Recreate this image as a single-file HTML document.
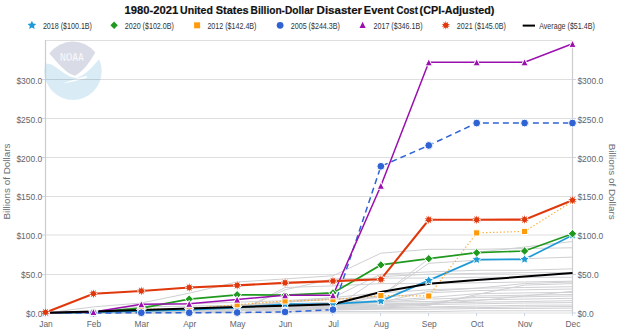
<!DOCTYPE html>
<html><head><meta charset="utf-8"><style>
html,body{margin:0;padding:0;background:#fff;width:620px;height:330px;overflow:hidden;}
svg{display:block;font-family:"Liberation Sans",sans-serif;}
</style></head><body>
<svg width="620" height="330" viewBox="0 0 620 330">
<g>
<circle cx="73" cy="71.3" r="28.7" fill="#d9ecf6"/>
<path d="M43,63.5 L46,48 L99,48 L100.5,57.5 C94,65 86,75 77,78 C68,78 58,68 51.5,64.5 C49,63.8 46,63.5 43,63.5 Z" fill="#ffffff"/>
<path d="M49.3,53.6 A28.7,28.7 0 0 1 95.3,52.6 C90.5,61 84,71 75,75.8 C66,74 57,62 49.3,53.6 Z" fill="#d9dbe7"/>
<path d="M62.5,83.5 C70,81 78,78.3 87,75.8 L86.5,78 C78,80 70,82.5 62.5,83.5 Z" fill="#ffffff"/>
<text x="72" y="60.9" text-anchor="middle" font-family="Liberation Sans" font-weight="bold" font-size="11" fill="#ffffff" stroke="#d9dbe7" stroke-width="0.35" textLength="24" lengthAdjust="spacingAndGlyphs">NOAA</text>
</g>
<line x1="45" y1="313.0" x2="573" y2="313.0" stroke="#000" stroke-opacity="0.13" stroke-width="1"/>
<line x1="42" y1="313.0" x2="45" y2="313.0" stroke="#ccd6eb" stroke-width="1"/>
<line x1="573" y1="313.0" x2="576" y2="313.0" stroke="#ccd6eb" stroke-width="1"/>
<line x1="45" y1="274.5" x2="573" y2="274.5" stroke="#000" stroke-opacity="0.13" stroke-width="1"/>
<line x1="42" y1="274.5" x2="45" y2="274.5" stroke="#ccd6eb" stroke-width="1"/>
<line x1="573" y1="274.5" x2="576" y2="274.5" stroke="#ccd6eb" stroke-width="1"/>
<line x1="45" y1="235.0" x2="573" y2="235.0" stroke="#000" stroke-opacity="0.13" stroke-width="1"/>
<line x1="42" y1="235.0" x2="45" y2="235.0" stroke="#ccd6eb" stroke-width="1"/>
<line x1="573" y1="235.0" x2="576" y2="235.0" stroke="#ccd6eb" stroke-width="1"/>
<line x1="45" y1="196.5" x2="573" y2="196.5" stroke="#000" stroke-opacity="0.13" stroke-width="1"/>
<line x1="42" y1="196.5" x2="45" y2="196.5" stroke="#ccd6eb" stroke-width="1"/>
<line x1="573" y1="196.5" x2="576" y2="196.5" stroke="#ccd6eb" stroke-width="1"/>
<line x1="45" y1="157.5" x2="573" y2="157.5" stroke="#000" stroke-opacity="0.13" stroke-width="1"/>
<line x1="42" y1="157.5" x2="45" y2="157.5" stroke="#ccd6eb" stroke-width="1"/>
<line x1="573" y1="157.5" x2="576" y2="157.5" stroke="#ccd6eb" stroke-width="1"/>
<line x1="45" y1="118.5" x2="573" y2="118.5" stroke="#000" stroke-opacity="0.13" stroke-width="1"/>
<line x1="42" y1="118.5" x2="45" y2="118.5" stroke="#ccd6eb" stroke-width="1"/>
<line x1="573" y1="118.5" x2="576" y2="118.5" stroke="#ccd6eb" stroke-width="1"/>
<line x1="45" y1="79.5" x2="573" y2="79.5" stroke="#000" stroke-opacity="0.13" stroke-width="1"/>
<line x1="42" y1="79.5" x2="45" y2="79.5" stroke="#ccd6eb" stroke-width="1"/>
<line x1="573" y1="79.5" x2="576" y2="79.5" stroke="#ccd6eb" stroke-width="1"/>
<line x1="45" y1="40.5" x2="573" y2="40.5" stroke="#000" stroke-opacity="0.13" stroke-width="1"/>
<line x1="45.5" y1="313" x2="45.5" y2="316" stroke="#ccd6eb" stroke-width="1"/>
<line x1="93.5" y1="313" x2="93.5" y2="316" stroke="#ccd6eb" stroke-width="1"/>
<line x1="141.5" y1="313" x2="141.5" y2="316" stroke="#ccd6eb" stroke-width="1"/>
<line x1="189.5" y1="313" x2="189.5" y2="316" stroke="#ccd6eb" stroke-width="1"/>
<line x1="237.5" y1="313" x2="237.5" y2="316" stroke="#ccd6eb" stroke-width="1"/>
<line x1="285.5" y1="313" x2="285.5" y2="316" stroke="#ccd6eb" stroke-width="1"/>
<line x1="332.5" y1="313" x2="332.5" y2="316" stroke="#ccd6eb" stroke-width="1"/>
<line x1="380.5" y1="313" x2="380.5" y2="316" stroke="#ccd6eb" stroke-width="1"/>
<line x1="428.5" y1="313" x2="428.5" y2="316" stroke="#ccd6eb" stroke-width="1"/>
<line x1="476.5" y1="313" x2="476.5" y2="316" stroke="#ccd6eb" stroke-width="1"/>
<line x1="524.5" y1="313" x2="524.5" y2="316" stroke="#ccd6eb" stroke-width="1"/>
<line x1="572.5" y1="313" x2="572.5" y2="316" stroke="#ccd6eb" stroke-width="1"/>
<line x1="45.5" y1="40" x2="45.5" y2="313" stroke="#cccccc" stroke-width="1.2"/>
<line x1="572.5" y1="40" x2="572.5" y2="313" stroke="#cccccc" stroke-width="1.2"/>
<g fill="none" stroke="#cfd0d3" stroke-width="1">
<polyline points="45.5,313.1 93.4,311.6 141.3,310.8 189.2,309.2 237.1,306.9 285.0,302.2 333.0,299.1 380.9,296.0 428.8,258.7 476.7,252.4 524.6,247.0 572.5,241.5"/>
<polyline points="45.5,313.1 93.4,306.9 141.3,303.0 189.2,293.2 237.1,282.0 285.0,278.9 333.0,275.8 380.9,253.2 428.8,249.3 476.7,249.3 524.6,248.5 572.5,247.8"/>
<polyline points="45.5,313.1 93.4,312.4 141.3,311.6 189.2,310.8 237.1,309.2 285.0,306.9 333.0,305.3 380.9,296.0 428.8,263.3 476.7,260.2 524.6,258.7 572.5,257.1"/>
<polyline points="45.5,313.1 93.4,312.4 141.3,306.9 189.2,306.1 237.1,305.3 285.0,302.2 333.0,297.6 380.9,274.2 428.8,271.9 476.7,270.3 524.6,270.3 572.5,268.8"/>
<polyline points="45.5,313.1 93.4,312.4 141.3,311.6 189.2,310.8 237.1,310.0 285.0,309.2 333.0,308.5 380.9,276.6 428.8,274.2 476.7,273.4 524.6,272.7 572.5,272.7"/>
<polyline points="45.5,313.1 93.4,313.1 141.3,313.1 189.2,312.4 237.1,311.6 285.0,289.8 333.0,278.9 380.9,278.1 428.8,278.1 476.7,277.3 524.6,277.3 572.5,277.3"/>
<polyline points="45.5,313.1 93.4,313.1 141.3,313.1 189.2,312.4 237.1,312.4 285.0,287.5 333.0,285.9 380.9,283.6 428.8,283.6 476.7,282.8 524.6,282.0 572.5,281.2"/>
<polyline points="45.5,313.1 93.4,311.6 141.3,305.3 189.2,303.8 237.1,302.2 285.0,300.7 333.0,297.6 380.9,292.9 428.8,289.8 476.7,288.2 524.6,283.6 572.5,282.0"/>
<polyline points="45.5,313.1 93.4,311.6 141.3,310.8 189.2,309.2 237.1,307.7 285.0,305.3 333.0,303.8 380.9,302.2 428.8,291.3 476.7,288.2 524.6,287.5 572.5,286.7"/>
<polyline points="45.5,313.1 93.4,311.6 141.3,310.0 189.2,308.5 237.1,305.3 285.0,302.2 333.0,299.1 380.9,297.6 428.8,292.9 476.7,290.6 524.6,289.8 572.5,289.0"/>
<polyline points="45.5,313.1 93.4,311.6 141.3,310.0 189.2,308.5 237.1,306.1 285.0,303.8 333.0,302.2 380.9,300.7 428.8,297.6 476.7,293.7 524.6,292.9 572.5,292.4"/>
<polyline points="45.5,313.1 93.4,312.4 141.3,311.6 189.2,310.8 237.1,309.2 285.0,307.7 333.0,305.3 380.9,302.2 428.8,299.1 476.7,297.6 524.6,296.8 572.5,296.0"/>
<polyline points="45.5,313.1 93.4,311.6 141.3,310.8 189.2,309.2 237.1,307.7 285.0,306.1 333.0,304.6 380.9,302.2 428.8,301.5 476.7,299.9 524.6,299.1 572.5,298.3"/>
<polyline points="45.5,313.1 93.4,312.4 141.3,311.6 189.2,310.8 237.1,310.0 285.0,308.5 333.0,306.9 380.9,305.3 428.8,304.6 476.7,303.8 524.6,303.0 572.5,302.6"/>
<polyline points="45.5,313.1 93.4,312.4 141.3,311.6 189.2,310.8 237.1,310.0 285.0,309.2 333.0,308.5 380.9,307.7 428.8,306.9 476.7,306.1 524.6,305.3 572.5,305.0"/>
<polyline points="45.5,313.1 93.4,312.4 141.3,311.6 189.2,311.6 237.1,310.8 285.0,310.0 333.0,310.0 380.9,309.2 428.8,309.2 476.7,308.5 524.6,308.5 572.5,308.1"/>
<polyline points="45.5,313.1 93.4,313.1 141.3,312.4 189.2,312.4 237.1,312.4 285.0,311.6 333.0,311.6 380.9,311.6 428.8,311.6 476.7,310.8 524.6,310.8 572.5,310.8"/>
<polyline points="45.5,313.1 93.4,312.4 141.3,311.6 189.2,310.8 237.1,310.0 285.0,309.2 333.0,308.5 380.9,306.9 428.8,305.3 476.7,294.5 524.6,285.1 572.5,283.6"/>
<polyline points="45.5,313.1 93.4,312.4 141.3,311.6 189.2,310.8 237.1,310.0 285.0,308.5 333.0,307.7 380.9,306.1 428.8,303.8 476.7,300.7 524.6,296.0 572.5,291.3"/>
<polyline points="45.5,313.1 93.4,311.6 141.3,310.0 189.2,309.2 237.1,308.5 285.0,306.9 333.0,305.3 380.9,303.8 428.8,303.0 476.7,302.2 524.6,301.5 572.5,300.7"/>
<polyline points="45.5,313.1 93.4,313.1 141.3,312.4 189.2,311.6 237.1,310.8 285.0,310.0 333.0,309.2 380.9,308.5 428.8,307.7 476.7,307.7 524.6,306.9 572.5,306.5"/>
<polyline points="45.5,313.1 93.4,312.4 141.3,311.6 189.2,310.8 237.1,309.2 285.0,307.7 333.0,306.1 380.9,304.6 428.8,303.8 476.7,296.0 524.6,295.2 572.5,294.5"/>
</g>
<polyline points="45.5,313.1 93.4,312.4 141.3,310.8 189.2,310.0 237.1,307.7 285.0,304.2 333.0,303.8 380.9,301.1 428.8,280.4 476.7,259.6 524.6,259.3 572.5,235.2" fill="none" stroke="#1e9bd7" stroke-width="1.7"/>
<polyline points="45.5,313.1 93.4,312.0 141.3,308.1 189.2,299.1 237.1,294.8 285.0,295.2 333.0,292.9 380.9,264.9 428.8,258.7 476.7,252.7 524.6,251.0 572.5,233.8" fill="none" stroke="#1f9a1f" stroke-width="1.7"/>
<polyline points="45.5,313.1 93.4,312.4 141.3,309.2 189.2,308.5 237.1,304.7 285.0,301.0 333.0,299.7 380.9,295.6 428.8,296.0 476.7,232.9 524.6,231.4 572.5,201.4" fill="none" stroke="#ff9a0a" stroke-opacity="0.85" stroke-width="1.2" stroke-dasharray="1.3,2.2"/>
<polyline points="45.5,313.1 93.4,313.1 141.3,312.7 189.2,312.7 237.1,312.5 285.0,312.0 333.0,309.6 380.9,166.3 428.8,145.4 476.7,123.0 524.6,123.0 572.5,123.0" fill="none" stroke="#2f63d4" stroke-width="1.5" stroke-dasharray="6,4"/>
<polyline points="45.5,312.7 93.4,312.0 141.3,304.2 189.2,303.8 237.1,299.5 285.0,295.2 333.0,295.2 380.9,185.7 428.8,62.3 476.7,62.3 524.6,62.3 572.5,43.8" fill="none" stroke="#9a0fae" stroke-width="1.5"/>
<polyline points="45.5,312.7 93.4,311.6 141.3,310.0 189.2,308.5 237.1,306.9 285.0,305.7 333.0,304.2 380.9,292.1 428.8,283.7 476.7,280.1 524.6,276.6 572.5,273.1" fill="none" stroke="#000000" stroke-width="2"/>
<g fill="#1e9bd7" stroke="#fff" stroke-width="1"><polygon points="45.50,308.03 47.03,311.03 50.35,311.55 47.97,313.93 48.50,317.26 45.50,315.73 42.50,317.26 43.03,313.93 40.65,311.55 43.97,311.03"/><polygon points="93.41,307.25 94.94,310.25 98.26,310.78 95.88,313.16 96.41,316.48 93.41,314.95 90.41,316.48 90.94,313.16 88.56,310.78 91.88,310.25"/><polygon points="141.32,305.70 142.85,308.69 146.17,309.22 143.79,311.60 144.32,314.92 141.32,313.40 138.32,314.92 138.85,311.60 136.47,309.22 139.79,308.69"/><polygon points="189.23,304.92 190.76,307.91 194.08,308.44 191.70,310.82 192.22,314.14 189.23,312.62 186.23,314.14 186.75,310.82 184.38,308.44 187.70,307.91"/><polygon points="237.14,302.58 238.66,305.58 241.99,306.11 239.61,308.49 240.13,311.81 237.14,310.28 234.14,311.81 234.66,308.49 232.29,306.11 235.61,305.58"/><polygon points="285.05,299.08 286.57,302.08 289.90,302.61 287.52,304.98 288.04,308.31 285.05,306.78 282.05,308.31 282.57,304.98 280.20,302.61 283.52,302.08"/><polygon points="332.95,298.69 334.48,301.69 337.80,302.22 335.43,304.60 335.95,307.92 332.95,306.39 329.96,307.92 330.48,304.60 328.10,302.22 331.43,301.69"/><polygon points="380.86,295.97 382.39,298.97 385.71,299.49 383.34,301.87 383.86,305.19 380.86,303.67 377.87,305.19 378.39,301.87 376.01,299.49 379.34,298.97"/><polygon points="428.77,275.35 430.30,278.34 433.62,278.87 431.25,281.25 431.77,284.57 428.77,283.05 425.78,284.57 426.30,281.25 423.92,278.87 427.24,278.34"/><polygon points="476.68,254.49 478.21,257.49 481.53,258.02 479.15,260.40 479.68,263.72 476.68,262.19 473.68,263.72 474.21,260.40 471.83,258.02 475.15,257.49"/><polygon points="524.59,254.18 526.12,257.18 529.44,257.71 527.06,260.09 527.59,263.41 524.59,261.88 521.59,263.41 522.12,260.09 519.74,257.71 523.06,257.18"/><polygon points="572.50,230.14 574.03,233.13 577.35,233.66 574.97,236.04 575.50,239.36 572.50,237.84 569.50,239.36 570.03,236.04 567.65,233.66 570.97,233.13"/></g>
<g fill="#1f9a1f" stroke="#fff" stroke-width="1"><polygon points="45.50,308.93 49.70,313.13 45.50,317.33 41.30,313.13"/><polygon points="93.41,307.76 97.61,311.96 93.41,316.16 89.21,311.96"/><polygon points="141.32,303.87 145.52,308.07 141.32,312.27 137.12,308.07"/><polygon points="189.23,294.92 193.43,299.12 189.23,303.32 185.03,299.12"/><polygon points="237.14,290.57 241.34,294.77 237.14,298.97 232.94,294.77"/><polygon points="285.05,291.03 289.25,295.23 285.05,299.43 280.85,295.23"/><polygon points="332.95,288.70 337.15,292.90 332.95,297.10 328.75,292.90"/><polygon points="380.86,260.69 385.06,264.89 380.86,269.09 376.66,264.89"/><polygon points="428.77,254.46 432.97,258.66 428.77,262.86 424.57,258.66"/><polygon points="476.68,248.55 480.88,252.75 476.68,256.95 472.48,252.75"/><polygon points="524.59,246.83 528.79,251.03 524.59,255.23 520.39,251.03"/><polygon points="572.50,229.56 576.70,233.76 572.50,237.96 568.30,233.76"/></g>
<g fill="#ff9a0a" stroke="#fff" stroke-width="1"><rect x="42.40" y="310.03" width="6.20" height="6.20"/><rect x="90.31" y="309.25" width="6.20" height="6.20"/><rect x="138.22" y="306.14" width="6.20" height="6.20"/><rect x="186.13" y="305.36" width="6.20" height="6.20"/><rect x="234.04" y="301.63" width="6.20" height="6.20"/><rect x="281.95" y="297.89" width="6.20" height="6.20"/><rect x="329.85" y="296.57" width="6.20" height="6.20"/><rect x="377.76" y="292.52" width="6.20" height="6.20"/><rect x="425.67" y="292.91" width="6.20" height="6.20"/><rect x="473.58" y="229.80" width="6.20" height="6.20"/><rect x="521.49" y="228.33" width="6.20" height="6.20"/><rect x="569.40" y="198.29" width="6.20" height="6.20"/></g>
<g fill="#2f63d4" stroke="#fff" stroke-width="1"><circle cx="45.50" cy="313.13" r="3.9"/><circle cx="93.41" cy="313.13" r="3.9"/><circle cx="141.32" cy="312.74" r="3.9"/><circle cx="189.23" cy="312.74" r="3.9"/><circle cx="237.14" cy="312.51" r="3.9"/><circle cx="285.05" cy="311.96" r="3.9"/><circle cx="332.95" cy="309.63" r="3.9"/><circle cx="380.86" cy="166.29" r="3.9"/><circle cx="428.77" cy="145.44" r="3.9"/><circle cx="476.68" cy="123.03" r="3.9"/><circle cx="524.59" cy="123.03" r="3.9"/><circle cx="572.50" cy="123.03" r="3.9"/></g>
<g fill="#9a0fae" stroke="#fff" stroke-width="1"><polygon points="45.50,309.14 49.10,316.34 41.90,316.34"/><polygon points="93.41,308.36 97.01,315.56 89.81,315.56"/><polygon points="141.32,300.58 144.92,307.78 137.72,307.78"/><polygon points="189.23,300.19 192.83,307.39 185.63,307.39"/><polygon points="237.14,295.91 240.74,303.11 233.54,303.11"/><polygon points="285.05,291.63 288.65,298.83 281.45,298.83"/><polygon points="332.95,291.63 336.55,298.83 329.35,298.83"/><polygon points="380.86,182.07 384.46,189.27 377.26,189.27"/><polygon points="428.77,58.66 432.37,65.86 425.17,65.86"/><polygon points="476.68,58.66 480.28,65.86 473.08,65.86"/><polygon points="524.59,58.66 528.19,65.86 520.99,65.86"/><polygon points="572.50,40.22 576.10,47.42 568.90,47.42"/></g>
<polyline points="45.5,312.4 93.4,293.7 141.3,291.0 189.2,287.5 237.1,285.4 285.0,282.9 333.0,281.1 380.9,279.3 428.8,219.8 476.7,219.8 524.6,219.6 572.5,200.3" fill="none" stroke="#e0380c" stroke-width="2.1"/>
<g fill="#e0380c" stroke="#fff" stroke-width="0.5"><circle cx="45.50" cy="312.35" r="3.9" fill="#fff" stroke="none"/><polygon stroke="none" points="45.50,307.85 46.15,310.35 48.15,308.71 47.20,311.12 49.78,310.96 47.60,312.35 49.78,313.74 47.20,313.59 48.15,315.99 46.15,314.35 45.50,316.85 44.85,314.35 42.85,315.99 43.80,313.59 41.22,313.74 43.40,312.35 41.22,310.96 43.80,311.12 42.85,308.71 44.85,310.35"/><circle cx="45.50" cy="312.35" r="2.3" stroke="none"/><circle cx="93.41" cy="293.68" r="3.9" fill="#fff" stroke="none"/><polygon stroke="none" points="93.41,289.18 94.06,291.68 96.05,290.04 95.11,292.44 97.69,292.29 95.51,293.68 97.69,295.07 95.11,294.91 96.05,297.32 94.06,295.67 93.41,298.18 92.76,295.67 90.76,297.32 91.71,294.91 89.13,295.07 91.31,293.68 89.13,292.29 91.71,292.44 90.76,290.04 92.76,291.68"/><circle cx="93.41" cy="293.68" r="2.3" stroke="none"/><circle cx="141.32" cy="290.95" r="3.9" fill="#fff" stroke="none"/><polygon stroke="none" points="141.32,286.45 141.97,288.96 143.96,287.31 143.02,289.72 145.60,289.56 143.42,290.95 145.60,292.34 143.02,292.19 143.96,294.59 141.97,292.95 141.32,295.45 140.67,292.95 138.67,294.59 139.62,292.19 137.04,292.34 139.22,290.95 137.04,289.56 139.62,289.72 138.67,287.31 140.67,288.96"/><circle cx="141.32" cy="290.95" r="2.3" stroke="none"/><circle cx="189.23" cy="287.53" r="3.9" fill="#fff" stroke="none"/><polygon stroke="none" points="189.23,283.03 189.88,285.53 191.87,283.89 190.93,286.29 193.51,286.14 191.33,287.53 193.51,288.92 190.93,288.76 191.87,291.17 189.88,289.53 189.23,292.03 188.58,289.53 186.58,291.17 187.53,288.76 184.95,288.92 187.13,287.53 184.95,286.14 187.53,286.29 186.58,283.89 188.58,285.53"/><circle cx="189.23" cy="287.53" r="2.3" stroke="none"/><circle cx="237.14" cy="285.35" r="3.9" fill="#fff" stroke="none"/><polygon stroke="none" points="237.14,280.85 237.79,283.35 239.78,281.71 238.84,284.12 241.42,283.96 239.24,285.35 241.42,286.74 238.84,286.58 239.78,288.99 237.79,287.35 237.14,289.85 236.49,287.35 234.49,288.99 235.44,286.58 232.86,286.74 235.04,285.35 232.86,283.96 235.44,284.12 234.49,281.71 236.49,283.35"/><circle cx="237.14" cy="285.35" r="2.3" stroke="none"/><circle cx="285.05" cy="282.86" r="3.9" fill="#fff" stroke="none"/><polygon stroke="none" points="285.05,278.36 285.69,280.86 287.69,279.22 286.74,281.63 289.33,281.47 287.15,282.86 289.33,284.25 286.74,284.09 287.69,286.50 285.69,284.86 285.05,287.36 284.40,284.86 282.40,286.50 283.35,284.09 280.77,284.25 282.95,282.86 280.77,281.47 283.35,281.63 282.40,279.22 284.40,280.86"/><circle cx="285.05" cy="282.86" r="2.3" stroke="none"/><circle cx="332.95" cy="281.07" r="3.9" fill="#fff" stroke="none"/><polygon stroke="none" points="332.95,276.57 333.60,279.07 335.60,277.43 334.65,279.84 337.23,279.68 335.05,281.07 337.23,282.46 334.65,282.30 335.60,284.71 333.60,283.07 332.95,285.57 332.31,283.07 330.31,284.71 331.26,282.30 328.67,282.46 330.85,281.07 328.67,279.68 331.26,279.84 330.31,277.43 332.31,279.07"/><circle cx="332.95" cy="281.07" r="2.3" stroke="none"/><circle cx="380.86" cy="279.28" r="3.9" fill="#fff" stroke="none"/><polygon stroke="none" points="380.86,274.78 381.51,277.28 383.51,275.64 382.56,278.05 385.14,277.89 382.96,279.28 385.14,280.67 382.56,280.52 383.51,282.92 381.51,281.28 380.86,283.78 380.21,281.28 378.22,282.92 379.16,280.52 376.58,280.67 378.76,279.28 376.58,277.89 379.16,278.05 378.22,275.64 380.21,277.28"/><circle cx="380.86" cy="279.28" r="2.3" stroke="none"/><circle cx="428.77" cy="219.75" r="3.9" fill="#fff" stroke="none"/><polygon stroke="none" points="428.77,215.25 429.42,217.76 431.42,216.11 430.47,218.52 433.05,218.36 430.87,219.75 433.05,221.14 430.47,220.99 431.42,223.39 429.42,221.75 428.77,224.25 428.12,221.75 426.13,223.39 427.07,220.99 424.49,221.14 426.67,219.75 424.49,218.36 427.07,218.52 426.13,216.11 428.12,217.76"/><circle cx="428.77" cy="219.75" r="2.3" stroke="none"/><circle cx="476.68" cy="219.75" r="3.9" fill="#fff" stroke="none"/><polygon stroke="none" points="476.68,215.25 477.33,217.76 479.33,216.11 478.38,218.52 480.96,218.36 478.78,219.75 480.96,221.14 478.38,220.99 479.33,223.39 477.33,221.75 476.68,224.25 476.03,221.75 474.04,223.39 474.98,220.99 472.40,221.14 474.58,219.75 472.40,218.36 474.98,218.52 474.04,216.11 476.03,217.76"/><circle cx="476.68" cy="219.75" r="2.3" stroke="none"/><circle cx="524.59" cy="219.60" r="3.9" fill="#fff" stroke="none"/><polygon stroke="none" points="524.59,215.10 525.24,217.60 527.24,215.96 526.29,218.36 528.87,218.21 526.69,219.60 528.87,220.99 526.29,220.83 527.24,223.24 525.24,221.59 524.59,224.10 523.94,221.59 521.95,223.24 522.89,220.83 520.31,220.99 522.49,219.60 520.31,218.21 522.89,218.36 521.95,215.96 523.94,217.60"/><circle cx="524.59" cy="219.60" r="2.3" stroke="none"/><circle cx="572.50" cy="200.30" r="3.9" fill="#fff" stroke="none"/><polygon stroke="none" points="572.50,195.80 573.15,198.30 575.15,196.66 574.20,199.07 576.78,198.91 574.60,200.30 576.78,201.69 574.20,201.53 575.15,203.94 573.15,202.30 572.50,204.80 571.85,202.30 569.85,203.94 570.80,201.53 568.22,201.69 570.40,200.30 568.22,198.91 570.80,199.07 569.85,196.66 571.85,198.30"/><circle cx="572.50" cy="200.30" r="2.3" stroke="none"/></g>
<g font-family="Liberation Sans, sans-serif" font-size="8.4" fill="#61656c">
<text x="42.3" y="317.1" text-anchor="end" font-size="8.8" textLength="16.3" lengthAdjust="spacingAndGlyphs">$0.0</text>
<text x="577.4" y="317.1" font-size="8.8" textLength="16.3" lengthAdjust="spacingAndGlyphs">$0.0</text>
<text x="42.3" y="278.2" text-anchor="end" font-size="8.8" textLength="21.2" lengthAdjust="spacingAndGlyphs">$50.0</text>
<text x="577.4" y="278.2" font-size="8.8" textLength="21.2" lengthAdjust="spacingAndGlyphs">$50.0</text>
<text x="42.3" y="239.3" text-anchor="end" font-size="8.8" textLength="25.9" lengthAdjust="spacingAndGlyphs">$100.0</text>
<text x="577.4" y="239.3" font-size="8.8" textLength="25.9" lengthAdjust="spacingAndGlyphs">$100.0</text>
<text x="42.3" y="200.4" text-anchor="end" font-size="8.8" textLength="25.9" lengthAdjust="spacingAndGlyphs">$150.0</text>
<text x="577.4" y="200.4" font-size="8.8" textLength="25.9" lengthAdjust="spacingAndGlyphs">$150.0</text>
<text x="42.3" y="161.5" text-anchor="end" font-size="8.8" textLength="25.9" lengthAdjust="spacingAndGlyphs">$200.0</text>
<text x="577.4" y="161.5" font-size="8.8" textLength="25.9" lengthAdjust="spacingAndGlyphs">$200.0</text>
<text x="42.3" y="122.6" text-anchor="end" font-size="8.8" textLength="25.9" lengthAdjust="spacingAndGlyphs">$250.0</text>
<text x="577.4" y="122.6" font-size="8.8" textLength="25.9" lengthAdjust="spacingAndGlyphs">$250.0</text>
<text x="42.3" y="83.7" text-anchor="end" font-size="8.8" textLength="25.9" lengthAdjust="spacingAndGlyphs">$300.0</text>
<text x="577.4" y="83.7" font-size="8.8" textLength="25.9" lengthAdjust="spacingAndGlyphs">$300.0</text>
<text x="46.0" y="326.8" text-anchor="middle">Jan</text>
<text x="93.9" y="326.8" text-anchor="middle">Feb</text>
<text x="141.8" y="326.8" text-anchor="middle">Mar</text>
<text x="189.7" y="326.8" text-anchor="middle">Apr</text>
<text x="237.6" y="326.8" text-anchor="middle">May</text>
<text x="285.5" y="326.8" text-anchor="middle">Jun</text>
<text x="333.5" y="326.8" text-anchor="middle">Jul</text>
<text x="381.4" y="326.8" text-anchor="middle">Aug</text>
<text x="429.3" y="326.8" text-anchor="middle">Sep</text>
<text x="477.2" y="326.8" text-anchor="middle">Oct</text>
<text x="525.1" y="326.8" text-anchor="middle">Nov</text>
<text x="573.0" y="326.8" text-anchor="middle">Dec</text>
<text transform="translate(9.8,181.5) rotate(-90)" text-anchor="middle" font-size="8.5" fill="#6a6e74" textLength="76" lengthAdjust="spacingAndGlyphs">Billions of Dollars</text>
<text transform="translate(609.0,181.8) rotate(90)" text-anchor="middle" font-size="8.5" fill="#6a6e74" textLength="76" lengthAdjust="spacingAndGlyphs">Billions of Dollars</text>
</g>
<g font-family="Liberation Sans, sans-serif" font-weight="bold" font-size="11.7" fill="#111111" stroke="#111111" stroke-width="0.2">
<text x="124.5" y="13.6" textLength="53.9" lengthAdjust="spacingAndGlyphs">1980-2021</text>
<text x="180.1" y="13.6" textLength="32.8" lengthAdjust="spacingAndGlyphs">United</text>
<text x="215.7" y="13.6" textLength="32.9" lengthAdjust="spacingAndGlyphs">States</text>
<text x="250.6" y="13.6" textLength="63.2" lengthAdjust="spacingAndGlyphs">Billion-Dollar</text>
<text x="316.6" y="13.6" textLength="45.5" lengthAdjust="spacingAndGlyphs">Disaster</text>
<text x="363.8" y="13.6" textLength="30.0" lengthAdjust="spacingAndGlyphs">Event</text>
<text x="396.6" y="13.6" textLength="21.3" lengthAdjust="spacingAndGlyphs">Cost</text>
<text x="419.6" y="13.6" textLength="74.8" lengthAdjust="spacingAndGlyphs">(CPI-Adjusted)</text>
</g>
<g font-family="Liberation Sans, sans-serif" font-size="8.6" fill="#333333">
<g fill="#1e9bd7"><polygon points="31.90,20.70 33.19,23.52 36.27,23.88 33.99,25.98 34.60,29.02 31.90,27.50 29.20,29.02 29.81,25.98 27.53,23.88 30.61,23.52"/></g>
<text x="42.9" y="28.9" textLength="49.1" lengthAdjust="spacingAndGlyphs">2018 ($100.1B)</text>
<g fill="#1f9a1f"><polygon points="114.10,21.60 117.80,25.30 114.10,29.00 110.40,25.30"/></g>
<text x="124.8" y="28.9" textLength="49.1" lengthAdjust="spacingAndGlyphs">2020 ($102.0B)</text>
<g fill="#ff9a0a"><rect x="194.10" y="22.30" width="6.00" height="6.00"/></g>
<text x="207.4" y="28.9" textLength="49.1" lengthAdjust="spacingAndGlyphs">2012 ($142.4B)</text>
<g fill="#2f63d4"><circle cx="280.10" cy="25.30" r="3.4"/></g>
<text x="290.8" y="28.9" textLength="49.1" lengthAdjust="spacingAndGlyphs">2005 ($244.3B)</text>
<g fill="#9a0fae"><polygon points="362.60,21.70 365.70,27.90 359.50,27.90"/></g>
<text x="373.5" y="28.9" textLength="49.1" lengthAdjust="spacingAndGlyphs">2017 ($346.1B)</text>
<g fill="#e0380c"><circle cx="445.80" cy="25.30" r="3.9" fill="#fff" stroke="none"/><polygon stroke="none" points="445.80,20.80 446.45,23.30 448.45,21.66 447.50,24.07 450.08,23.91 447.90,25.30 450.08,26.69 447.50,26.53 448.45,28.94 446.45,27.30 445.80,29.80 445.15,27.30 443.15,28.94 444.10,26.53 441.52,26.69 443.70,25.30 441.52,23.91 444.10,24.07 443.15,21.66 445.15,23.30"/><circle cx="445.80" cy="25.30" r="2.3" stroke="none"/></g>
<text x="456.8" y="28.9" textLength="49.1" lengthAdjust="spacingAndGlyphs">2021 ($145.0B)</text>
<g fill="#000"><rect x="522.7" y="24.6" width="12.3" height="2"/></g>
<text x="539.2" y="28.9" textLength="55.6" lengthAdjust="spacingAndGlyphs">Average ($51.4B)</text>
</g>
</svg>
</body></html>
